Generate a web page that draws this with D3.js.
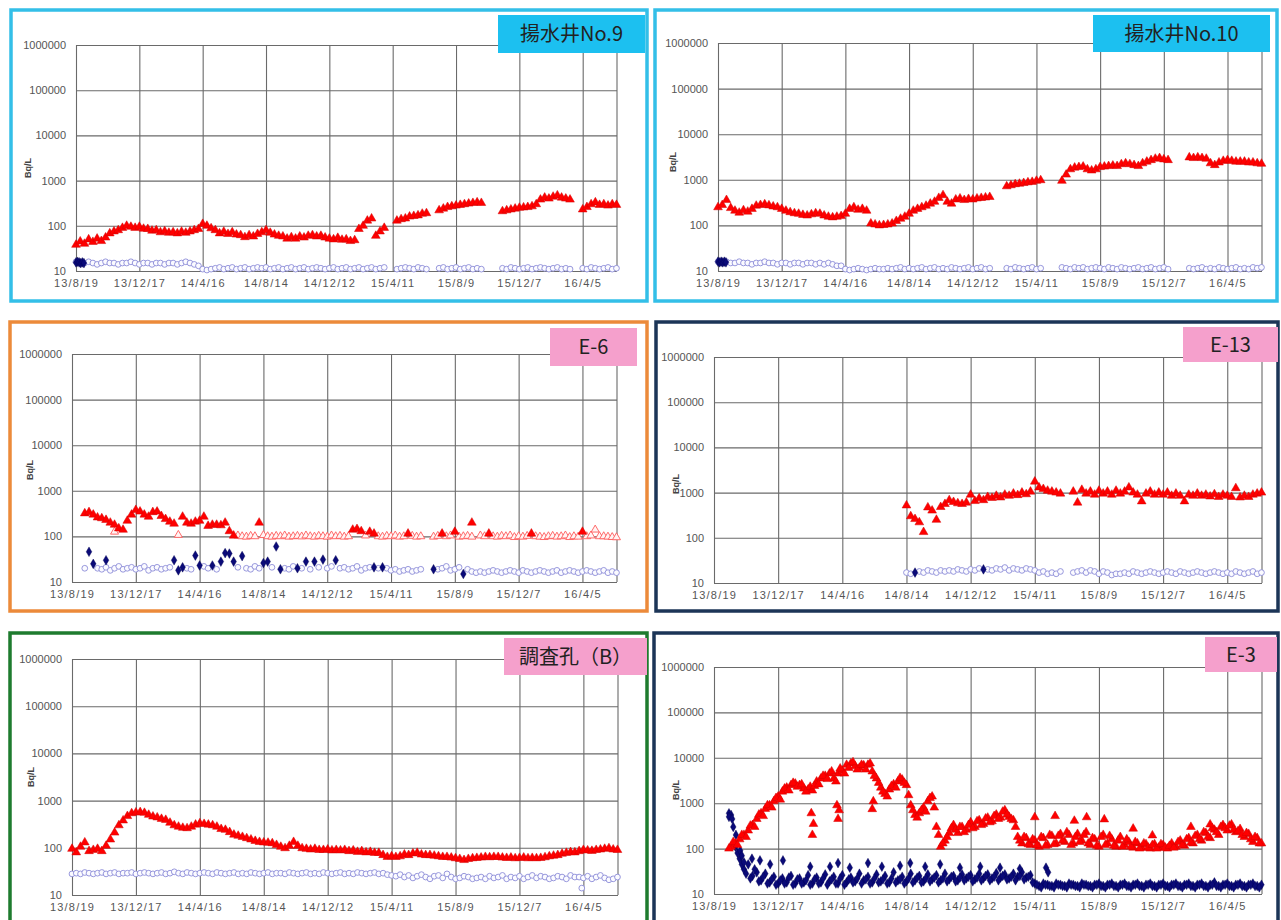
<!DOCTYPE html>
<meta charset="utf-8">
<style>
body { margin: 0; background: #fff; }
svg text { font-family: "Liberation Sans", Arial, sans-serif; }
.axis text { fill: #555; font-size: 11px; }
.axis line { stroke: #6a6a6a; stroke-width: 1.1; }
.xaxis text { letter-spacing: 1.2px; }
.ytitle { font-size: 9px; font-weight: bold; fill: #444; }
.tag { font-family: "Noto Sans CJK JP", "Noto Sans", sans-serif !important; font-size: 20px; font-weight: 400; fill: #222; }
</style>
<svg width="1281" height="920"></svg>
<script src="https://cdn.jsdelivr.net/npm/d3@7"></script>
<script>

// ---- axis settings ----
var axisStart = "2013-08-19", axisEnd = "2016-06-09";
var xTickDates = ["2013-08-19","2013-12-17","2014-04-16","2014-08-14","2014-12-12","2015-04-11","2015-08-09","2015-12-07","2016-04-05"];
var yTickValues = [10, 100, 1000, 10000, 100000, 1000000];
var step = 8; // days between the sampled readings below

// ---- 揚水井No.9 ----
var no9Red = [
  38,45,40,50,44,52,46,55,68,75,
  80,90,100,95,90,95,86,85,78,80,
  72,76,70,72,68,74,70,75,80,85,
  110,100,88,80,68,74,66,72,64,62,
  56,62,58,66,72,80,70,64,60,58,
  52,56,52,58,55,60,62,58,60,55,
  52,50,54,49,50,46,48,85,100,130,
  145,60,75,90,null,null,130,140,145,160,
  165,170,185,190,null,null,220,240,260,270,
  280,290,300,310,320,330,320,null,null,null,
  null,210,220,230,240,250,255,260,270,300,
  380,420,400,440,470,420,400,380,null,null,
  230,260,300,330,290,300,280,300,290];
var no9Open = [
  16,15,15,16,15,14,15,16,15,15,
  14,15,15,16,15,14,15,15,14,15,
  15,14,15,15,14,15,16,15,14,13,
  11,10.5,11,11.5,12,11,11.5,12,11,11.5,
  12,11,11.5,12,11.5,12,11,11.5,12,11,
  11.5,12,11,11.5,12,11,11.5,12,11.5,11,
  11.5,12,11,11.5,12,11,11.5,12,11,11.5,
  12,11,11.5,12,null,null,11,11.5,12,11.5,
  11,12,11.5,11,null,null,11.5,12,11,11.5,
  12,11,11.5,12,11,11.5,11,null,null,null,
  null,11.5,11,12,11.5,11,11.5,12,11,11.5,
  12,11.5,11,11.5,12,11,11.5,11,null,null,
  11.5,11,12,11.5,11,11.5,12,11,11.5];
var no9NavyDates = ["2013-08-19","2013-08-22","2013-08-25","2013-08-28","2013-08-31","2013-09-03"];
var no9NavyVals = [15.5,16,15.5,15,15.5,15];

// ---- 揚水井No.10 ----
var no10Red = [
  250,280,360,240,210,190,215,200,230,270,
  280,290,275,260,250,230,210,195,185,180,
  170,165,175,185,180,165,155,150,155,160,
  180,230,250,220,230,210,110,105,100,102,
  105,110,125,140,155,180,210,230,250,270,
  300,330,400,460,330,300,370,390,360,380,
  370,390,400,410,420,null,null,null,720,760,
  800,820,850,880,900,950,980,null,null,null,
  null,950,1300,1700,1850,1900,1950,1700,1600,1700,
  1900,1950,2000,2050,2000,2200,2300,2200,2100,2000,
  2300,2500,2700,2900,3000,2800,2700,null,null,null,
  null,3100,3000,3100,3000,2900,2300,2100,2400,2600,
  2700,2600,2500,2500,2500,2400,2400,2300,2250];
var no10Open = [
  16,15,16,15,15,16,15,15,14,15,
  15,16,15,15,14,15,15,14,15,15,
  14,15,15,14,15,14,15,14,13,13,
  11,10.5,11,11.5,11,10.5,11,11.5,11,11,
  11.5,11,11.5,12,11,11.5,11,11.5,12,11,
  11.5,12,11,11.5,11,12,11.5,11,11.5,12,
  11,11.5,12,11,11.5,null,null,null,11.5,11,
  12,11.5,11,11.5,12,11,11.5,null,null,null,
  null,12,11.5,11,12,11.5,12,11,11.5,12,
  11.5,11,12,11.5,11,12,11.5,11,11.5,12,
  11,11.5,12,11,11.5,12,11,null,null,null,
  null,11.5,11,11.5,12,11,11.5,11,12,11.5,
  11,11.5,12,11,11.5,11,12,11.5,12];
var no10NavyDates = ["2013-08-19","2013-08-22","2013-08-25","2013-08-28","2013-08-31","2013-09-03"];
var no10NavyVals = [16,15.5,16,15.5,16,15.5];

// ---- E-6 ----
var e6Red = [
  320,340,300,260,250,230,200,180,150,140,
  220,300,380,350,300,270,340,350,280,240,
  210,190,null,270,200,190,210,220,270,170,
  180,180,175,200,130,104];
var e6RedLateDates = ["2014-08-06","2015-01-29","2015-02-06","2015-02-14","2015-03-02","2015-03-10","2015-05-13","2015-07-16","2015-08-09","2015-09-10","2015-10-12","2015-12-31","2016-04-05"];
var e6RedLateVals = [200,140,145,130,126,115,115,115,126,200,115,115,126];
var e6RedOpen = [
  104,100,98,102,100,null,106,100,98,102,
  100,104,98,100,102,99,104,100,98,102,
  100,98,104,100,102,98,100,null,null,null,
  104,null,null,100,98,102,100,104,98,100,
  null,102,98,100,null,null,98,102,null,100,
  104,null,98,100,102,98,null,104,100,null,
  100,98,102,100,104,96,100,98,102,null,
  100,98,96,100,102,98,100,104,96,100,
  98,null,100,104,140,100,100,98,96,95];
var e6RedOpenEarlyDates = ["2013-11-07","2014-03-07"];
var e6RedOpenEarlyVals = [126,107];
var e6Open = [
  20,null,null,20,19,21,18,20,22,19,
  20,21,19,20,22,18,20,21,19,20,
  21,null,null,null,20,19,null,null,22,20,
  null,19,null,null,null,null,21,null,20,19,
  22,20,null,null,21,null,null,20,19,22,
  null,20,null,19,null,21,null,20,22,null,
  20,21,19,20,22,18,20,21,null,20,
  null,20,18,19,17,18,19,17,18,19,
  null,null,null,19,20,22,18,19,21,null,
  19,17,16,17,16,17,18,17,16,17,
  18,17,16,18,17,16,17,18,17,16,
  17,18,16,17,18,17,16,17,18,17,
  16,17,18,16,17,16];
var e6NavyDates = ["2013-09-20","2013-09-28","2013-10-22","2014-02-27","2014-03-07","2014-03-15","2014-04-08","2014-04-16","2014-05-10","2014-05-26","2014-06-03","2014-06-11","2014-06-19","2014-07-05","2014-08-14","2014-08-22","2014-09-07","2014-09-15","2014-10-17","2014-11-02","2014-11-18","2014-12-04","2014-12-28","2015-03-10","2015-03-26","2015-06-30","2015-08-25"];
var e6NavyVals = [46,25,30,30,18,21,38,23,23,28,43,42,28,37,26,28,60,19,20,28,28,31,30,21,21,19,15];

// ---- E-13 ----
var e13Red = [
  520,300,260,220,134,470,400,250,480,560,
  680,620,580,560,600,
  900,650,750,680,800,760,850,780,900,850,950,880,1000,920,1050,
  1750,1300,1200,1100,1050,1000,950,null,null,1050,
  600,1150,950,1050,900,1100,950,1050,900,1100,
  950,1050,1300,1000,900,640,950,1050,900,1000,
  900,1000,850,950,850,640,900,850,950,850,
  900,820,920,800,900,850,800,1250,780,850,
  800,900,950,1000];
var e13Open = [
  17,16,null,18,17,19,18,17,19,18,
  19,18,20,19,18,20,19,21,null,20,
  19,21,20,22,19,21,20,19,21,20,
  19,17,18,16,17,16,18,null,null,17,
  18,19,17,19,18,16,18,17,15,16,
  16,17,16,18,17,16,17,18,17,16,
  17,18,17,16,18,17,16,17,18,17,
  16,17,18,17,16,17,16,18,17,16,
  17,18,16,17];
var e13NavyDates = ["2014-08-30","2015-01-05"];
var e13NavyVals = [17,20];

// ---- 調査孔(B) ----
var bRed = [
  95,80,105,130,85,90,95,85,110,150,
  210,300,380,470,540,560,570,550,500,460,
  440,410,390,340,300,280,265,260,280,310,
  330,320,310,300,280,250,240,215,190,180,
  170,160,150,140,133,130,128,125,115,105,
  98,110,133,110,98,95,92,95,90,90,
  92,88,90,88,90,85,88,82,85,80,
  82,78,78,70,64,66,64,66,72,70,
  76,78,72,70,70,68,66,64,64,62,
  60,58,55,58,60,61,62,64,63,64,
  64,62,61,62,60,61,62,60,61,60,
  61,63,66,68,70,75,78,81,80,85,
  90,88,86,90,92,95,98,92,90];
var bOpen = [
  28,29,28,30,29,28,29,30,28,29,
  30,28,29,29,30,28,29,30,29,28,
  29,30,28,29,31,29,28,30,29,28,
  29,30,29,28,30,29,28,29,30,28,
  29,28,30,29,28,29,30,28,29,29,
  28,30,29,28,29,30,28,29,28,30,
  29,28,29,30,28,29,28,30,29,28,
  29,30,28,29,27,26,25,27,24,26,
  23,25,27,24,22,25,26,23,28,24,
  22,23,25,24,22,23,24,22,25,23,
  24,26,22,24,23,25,22,24,26,23,
  25,24,22,23,25,24,22,26,24,24,
  23,25,22,24,26,23,21,22,24];
var bOutlierDates = ["2016-04-02"];
var bOutlierVals = [14];

// ---- E-3 ----
var e3RedA = [
  null,null,null,null,110,130,160,200,250,330,
  450,600,750,900,1100,1400,1800,2200,2500,2700,
  2500,2100,2000,1900,3000,3500,4000,4500,3500,4500,
  5200,7000,7500,6500,6000,6800,7000,5000,3500,2200,
  1600,2000,2600,3000,3300,2500,900,550,600,800,
  1100,1400,300,110,150,220,330,220,300,260,
  380,300,420,350,480,400,560,480,700,500,
  420,180,130,170,120,150,110,170,120,190,
  130,210,140,200,130,210,150,230,120,160,
  110,200,130,160,110,180,120,140,105,130,
  105,125,100,125,105,120,100,130,110,150,
  115,170,130,200,150,220,170,260,200,330,
  250,340,230,270,180,210,140,170,130];
var e3RedB = [
  null,null,null,100,140,120,200,180,320,300,
  560,520,900,800,1300,1200,2100,1900,2800,2300,
  2600,1800,2300,2400,2600,4000,3400,5000,3000,5800,
  4500,6000,8000,5500,7000,5500,7500,4000,2800,1800,
  1400,2400,2200,3600,2800,1500,700,480,700,650,
  1300,800,200,130,180,280,260,300,230,330,
  280,400,330,460,380,520,450,650,560,450,
  300,150,180,125,160,120,180,115,200,125,
  190,150,230,120,180,140,200,130,170,115,
  180,120,190,115,150,110,160,110,140,100,
  130,105,120,100,125,105,115,105,140,120,
  160,135,190,160,230,180,280,230,300,280,
  320,260,240,200,220,160,180,130,null];
var e3SpikeDates = ["2014-02-17","2014-02-19","2014-02-21","2014-04-06","2014-04-08","2014-04-10","2014-06-11","2014-06-13","2015-04-11","2015-05-19","2015-06-24","2015-07-17","2015-08-19","2015-10-12","2015-11-17","2016-01-28","2016-03-04"];
var e3SpikeVals = [600,200,350,900,450,700,740,1100,490,520,410,490,440,275,195,300,340];
var e3NavyA = [
  null,null,null,null,550,110,60,35,45,25,
  30,20,28,18,24,17,22,18,25,17,
  22,18,26,17,23,18,27,19,24,17,
  26,18,23,19,28,20,24,18,27,19,
  25,18,30,20,24,19,28,20,25,19,
  27,21,26,20,28,21,25,20,27,22,
  26,21,28,22,27,22,29,23,27,22,
  28,24,30,23,26,17,15,17,16,15,
  17,16,15,17,16,15,17,16,15,16,
  17,15,16,17,15,16,17,15,16,17,
  15,16,17,15,16,17,15,16,17,15,
  16,17,15,16,17,15,16,18,15,16,
  17,15,16,17,15,16,17,15,16];
var e3NavyB = [
  null,null,null,600,300,80,45,28,22,35,
  19,24,17,21,16,20,17,23,16,21,
  17,20,16,21,17,22,16,21,17,22,
  16,21,18,22,17,21,17,22,18,21,
  17,22,18,21,17,22,18,23,18,22,
  19,23,18,22,19,24,19,23,20,24,
  19,23,20,25,20,24,20,25,21,24,
  20,25,21,24,18,16,14,16,15,14,
  16,15,14,16,15,14,16,15,14,16,
  15,14,16,15,14,16,15,14,16,15,
  14,16,15,14,16,15,14,16,15,14,
  16,15,14,16,15,14,16,15,14,16,
  15,14,16,15,14,16,15,14,null];
var e3NavyScatterDates = ["2013-09-16","2013-09-22","2013-09-29","2013-10-07","2013-10-10","2013-10-14","2013-10-29","2013-11-13","2013-12-02","2013-12-26","2014-02-15","2014-03-24","2014-04-08","2014-04-30","2014-06-03","2014-06-29","2014-08-02","2014-08-21","2014-09-18","2014-10-16","2014-11-22","2014-12-30","2015-02-05","2015-03-14","2015-05-02","2015-05-06"];
var e3NavyScatterVals = [500,450,200,90,70,50,60,55,45,55,40,40,48,38,48,40,42,48,40,45,38,40,38,36,38,30];

// ---- drawing ----
var parseDate = d3.utcParse("%Y-%m-%d");
var fmt = d3.utcFormat("%y/%-m/%-d");

function gridPoints(start, vals) {
  var t0 = parseDate(start);
  return vals.map(function(v, i) { return {date: d3.utcDay.offset(t0, i * step), v: v}; })
    .filter(function(d) { return d.v != null; });
}
function listPoints(dates, vals) {
  return dates.map(function(d, i) { return {date: parseDate(d), v: vals[i]}; });
}

var markStyle = {
  open:    {sym: d3.symbolCircle,   size: 26, fill: "#fbfbff", stroke: "#8c8cd8", sw: 0.9},
  navy:    {sym: d3.symbolDiamond,  size: 27, fill: "#0a0a78", stroke: "#000050", sw: 0.4},
  redOpen: {sym: d3.symbolTriangle, size: 28, fill: "#fff4f4", stroke: "#ff5a5a", sw: 0.9},
  red:     {sym: d3.symbolTriangle, size: 33, fill: "#ff0000", stroke: "#d40000", sw: 0.5}
};

var cyan = "#33bfe8", orange = "#ec8a3a", navyEdge = "#1c3557", green = "#1e7b2e";
var cyanTag = "#1cc0f0", pinkTag = "#f5a0cc";

var panels = [
  {name: "揚水井No.9", edge: cyan, tag: cyanTag, frame: [11,10,647,301], plot: [76,45,617,271],
   tagBox: [498,15,645,53], yTitle: [28,168],
   series: [
     {kind: "open", pts: gridPoints("2013-08-19", no9Open)},
     {kind: "navy", pts: listPoints(no9NavyDates, no9NavyVals)},
     {kind: "red",  pts: gridPoints("2013-08-19", no9Red)}]},
  {name: "揚水井No.10", edge: cyan, tag: cyanTag, frame: [655,10,1277,301], plot: [718,43,1262,271],
   tagBox: [1093,15,1270,52], yTitle: [673,162],
   series: [
     {kind: "open", pts: gridPoints("2013-08-19", no10Open)},
     {kind: "navy", pts: listPoints(no10NavyDates, no10NavyVals)},
     {kind: "red",  pts: gridPoints("2013-08-19", no10Red)}]},
  {name: "E-6", edge: orange, tag: pinkTag, frame: [10,322,647,611], plot: [72,354,617,582],
   tagBox: [550,328,637,366], yTitle: [30,470],
   series: [
     {kind: "open", pts: gridPoints("2013-09-12", e6Open)},
     {kind: "navy", pts: listPoints(e6NavyDates, e6NavyVals)},
     {kind: "redOpen", pts: gridPoints("2014-06-27", e6RedOpen)},
     {kind: "redOpen", pts: listPoints(e6RedOpenEarlyDates, e6RedOpenEarlyVals)},
     {kind: "red", pts: gridPoints("2013-09-12", e6Red)},
     {kind: "red", pts: listPoints(e6RedLateDates, e6RedLateVals)}]},
  {name: "E-13", edge: navyEdge, tag: pinkTag, frame: [656,322,1278,611], plot: [714,357,1262,583],
   tagBox: [1183,327,1278,362], yTitle: [676,484],
   series: [
     {kind: "open", pts: gridPoints("2014-08-14", e13Open)},
     {kind: "navy", pts: listPoints(e13NavyDates, e13NavyVals)},
     {kind: "red",  pts: gridPoints("2014-08-14", e13Red)}]},
  {name: "調査孔（B）", edge: green, tag: pinkTag, frame: [10,633,647,930], plot: [72,659,618,895],
   tagBox: [504,638,647,675], yTitle: [31,777],
   series: [
     {kind: "open", pts: gridPoints("2013-08-19", bOpen)},
     {kind: "open", pts: listPoints(bOutlierDates, bOutlierVals)},
     {kind: "red",  pts: gridPoints("2013-08-19", bRed)}]},
  {name: "E-3", edge: navyEdge, tag: pinkTag, frame: [654,633,1278,930], plot: [714,667,1262,894],
   tagBox: [1205,637,1277,672], yTitle: [676,790],
   series: [
     {kind: "navy", pts: gridPoints("2013-08-19", e3NavyA)},
     {kind: "navy", pts: gridPoints("2013-08-23", e3NavyB)},
     {kind: "navy", pts: listPoints(e3NavyScatterDates, e3NavyScatterVals)},
     {kind: "red",  pts: gridPoints("2013-08-19", e3RedA)},
     {kind: "red",  pts: gridPoints("2013-08-23", e3RedB)},
     {kind: "red",  pts: listPoints(e3SpikeDates, e3SpikeVals)}]}
];

var svg = d3.select("svg");
svg.append("rect").attr("width", 1281).attr("height", 920).attr("fill", "#fff");

panels.forEach(function(p) {
  var g = svg.append("g");
  var l = p.plot[0], t = p.plot[1], r = p.plot[2], b = p.plot[3];

  g.append("rect")
    .attr("x", p.frame[0]).attr("y", p.frame[1])
    .attr("width", p.frame[2] - p.frame[0]).attr("height", p.frame[3] - p.frame[1])
    .attr("fill", "#fff").attr("stroke", p.edge).attr("stroke-width", 3.5);

  var x = d3.scaleUtc().domain([parseDate(axisStart), parseDate(axisEnd)]).range([l, r]);
  var y = d3.scaleLog().domain([10, 1000000]).range([b, t]);

  g.append("g").attr("class", "axis")
    .attr("transform", "translate(" + l + ",0)")
    .call(d3.axisLeft(y).tickValues(yTickValues).tickFormat(d3.format("d"))
      .tickSize(-(r - l)).tickPadding(10))
    .call(function(a) { a.select(".domain").remove(); });

  g.append("g").attr("class", "axis xaxis")
    .attr("transform", "translate(0," + b + ")")
    .call(d3.axisBottom(x).tickValues(xTickDates.map(parseDate)).tickFormat(fmt)
      .tickSize(-(b - t)).tickPadding(8))
    .call(function(a) { a.select(".domain").remove(); });

  g.append("line").attr("x1", r).attr("x2", r).attr("y1", t).attr("y2", b)
    .attr("stroke", "#6a6a6a").attr("stroke-width", 1.1);

  g.append("text").attr("class", "ytitle")
    .attr("transform", "translate(" + p.yTitle[0] + "," + p.yTitle[1] + ") rotate(-90)")
    .attr("text-anchor", "middle").attr("dy", "0.35em")
    .text("Bq/L");

  p.series.forEach(function(s) {
    var st = markStyle[s.kind];
    var sym = d3.symbol().type(st.sym).size(st.size);
    g.append("g").selectAll("path").data(s.pts).join("path")
      .attr("transform", function(d) { return "translate(" + x(d.date) + "," + y(d.v) + ")"; })
      .attr("d", sym)
      .attr("fill", st.fill).attr("stroke", st.stroke).attr("stroke-width", st.sw);
  });

  g.append("rect")
    .attr("x", p.tagBox[0]).attr("y", p.tagBox[1])
    .attr("width", p.tagBox[2] - p.tagBox[0]).attr("height", p.tagBox[3] - p.tagBox[1])
    .attr("fill", p.tag);
  g.append("text").attr("class", "tag")
    .attr("x", (p.tagBox[0] + p.tagBox[2]) / 2).attr("y", (p.tagBox[1] + p.tagBox[3]) / 2)
    .attr("text-anchor", "middle").attr("dy", "0.36em")
    .text(p.name);
});

</script>
